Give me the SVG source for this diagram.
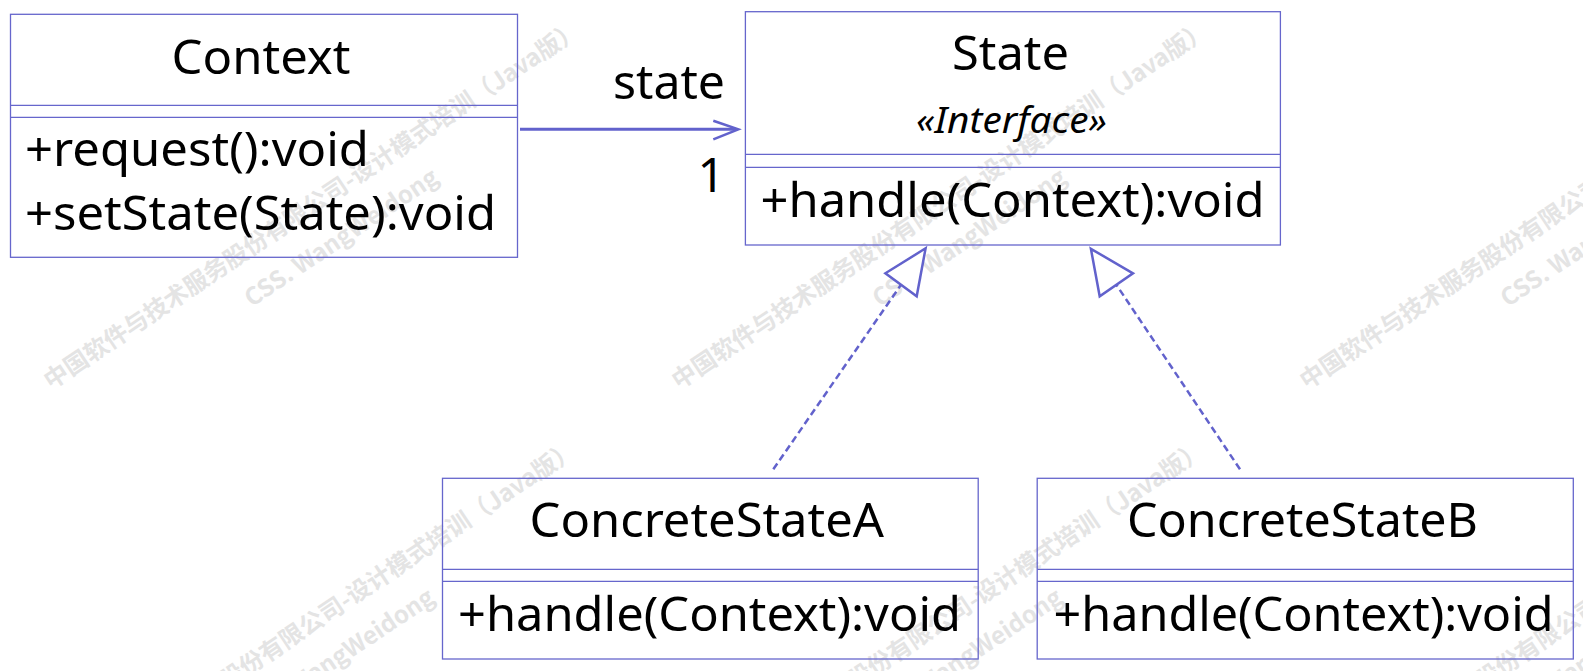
<svg xmlns="http://www.w3.org/2000/svg" xmlns:xlink="http://www.w3.org/1999/xlink" width="1583" height="671" viewBox="0 0 1583 671">
<style>
.box{fill:none;stroke:#6666CC;stroke-width:1.3}
.t{font-family:"Noto Sans","Open Sans","DejaVu Sans",sans-serif;font-size:48px;fill:#000}
.st{font-family:"Noto Sans","Open Sans","DejaVu Sans",sans-serif;font-size:37px;font-style:italic;fill:#000}
.wm{font-family:"Noto Sans CJK SC","Noto Sans",sans-serif;font-size:24px;font-weight:bold;fill:#e4e4e4}
.assoc{stroke:#6262CC;stroke-width:3;fill:none}
.head{stroke:#6262CC;stroke-width:2.5;fill:none}
.dash{stroke:#6262CC;stroke-width:2.5;stroke-dasharray:7 4;fill:none}
.tri{stroke:#6262CC;stroke-width:2.5;fill:#fff;stroke-linejoin:miter}
</style>
<defs>
<g id="wmTile">
<text class="wm" x="0" y="0" text-anchor="middle">中国软件与技术服务股份有限公司-设计模式培训（Java版）</text>
<text class="wm" x="6" y="43" text-anchor="middle">CSS. WangWeidong</text>
</g>
</defs>
<rect x="0" y="0" width="1583" height="671" fill="#fff"/>
<g id="watermark">
<use xlink:href="#wmTile" transform="translate(317,212) rotate(-33.8)"/>
<use xlink:href="#wmTile" transform="translate(945,212) rotate(-33.8)"/>
<use xlink:href="#wmTile" transform="translate(1573,212) rotate(-33.8)"/>
<use xlink:href="#wmTile" transform="translate(313,632) rotate(-33.8)"/>
<use xlink:href="#wmTile" transform="translate(941,632) rotate(-33.8)"/>
<use xlink:href="#wmTile" transform="translate(1569,632) rotate(-33.8)"/>
</g>
<g id="connectors">
<line class="assoc" x1="520" y1="129.3" x2="736" y2="129.3"/>
<polyline class="head" points="713.3,120.7 738.3,129.3 713.3,139.3"/>
<text class="t" x="613" y="98.5" textLength="112" lengthAdjust="spacingAndGlyphs">state</text>
<text class="t" x="725" y="191.7" text-anchor="end">1</text>
<line class="dash" x1="773.3" y1="469.3" x2="901" y2="284.8"/>
<polygon class="tri" points="925.6,248.3 885.4,273.3 916.7,296.3"/>
<line class="dash" x1="1240" y1="469.3" x2="1116.3" y2="284.7"/>
<polygon class="tri" points="1090.9,248.8 1133,273.3 1099.7,296.3"/>
</g>
<g id="Context">
<rect class="box" x="10.5" y="14.3" width="507" height="243"/>
<line class="box" x1="10.5" y1="105.3" x2="517.5" y2="105.3"/>
<line class="box" x1="10.5" y1="117.3" x2="517.5" y2="117.3"/>
<text class="t" x="171.5" y="73.8" textLength="179" lengthAdjust="spacingAndGlyphs">Context</text>
<text class="t" x="25" y="166.2" textLength="344" lengthAdjust="spacingAndGlyphs">+request():void</text>
<text class="t" x="25" y="230" textLength="471" lengthAdjust="spacingAndGlyphs">+setState(State):void</text>
</g>
<g id="State">
<rect class="box" x="745.4" y="11.7" width="535" height="233.3"/>
<line class="box" x1="745.4" y1="154.3" x2="1280.4" y2="154.3"/>
<line class="box" x1="745.4" y1="167.3" x2="1280.4" y2="167.3"/>
<text class="t" x="952" y="70.3" textLength="117" lengthAdjust="spacingAndGlyphs">State</text>
<text class="st" x="916" y="133.3" textLength="191" lengthAdjust="spacingAndGlyphs">«Interface»</text>
<text class="t" x="760.5" y="216.7" textLength="504" lengthAdjust="spacingAndGlyphs">+handle(Context):void</text>
</g>
<g id="ConcreteStateA">
<rect class="box" x="442.5" y="478.3" width="535.7" height="180.7"/>
<line class="box" x1="442.5" y1="569.3" x2="978.2" y2="569.3"/>
<line class="box" x1="442.5" y1="581.3" x2="978.2" y2="581.3"/>
<text class="t" x="529.5" y="537.3" textLength="354.5" lengthAdjust="spacingAndGlyphs">ConcreteStateA</text>
<text class="t" x="458" y="630.7" textLength="503" lengthAdjust="spacingAndGlyphs">+handle(Context):void</text>
</g>
<g id="ConcreteStateB">
<rect class="box" x="1037.2" y="478.3" width="536.1" height="180.7"/>
<line class="box" x1="1037.2" y1="569.3" x2="1573.3" y2="569.3"/>
<line class="box" x1="1037.2" y1="581.3" x2="1573.3" y2="581.3"/>
<text class="t" x="1127" y="537.3" textLength="351" lengthAdjust="spacingAndGlyphs">ConcreteStateB</text>
<text class="t" x="1053.5" y="630.7" textLength="500" lengthAdjust="spacingAndGlyphs">+handle(Context):void</text>
</g>
</svg>
